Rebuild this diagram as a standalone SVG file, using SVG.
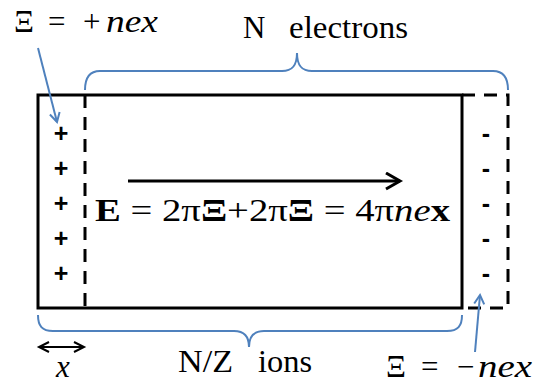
<svg xmlns="http://www.w3.org/2000/svg" width="534" height="383" viewBox="0 0 534 383">
<defs>
<style>
.t{font-family:'Liberation Serif','Times New Roman',Times,serif;font-size:31px;fill:#000}
.i{font-style:italic}
.b{font-weight:bold}
.sg{font-family:'Liberation Sans',Arial,sans-serif;font-weight:bold;font-size:25px;fill:#000;text-anchor:middle}
.brace{fill:none;stroke:#4F81BD;stroke-width:2}
.blue{fill:none;stroke:#4F81BD;stroke-width:2}
.blk{fill:none;stroke:#000;stroke-width:3}
.dash{fill:none;stroke:#000;stroke-width:3;stroke-dasharray:13 9}
</style>
<marker id="hb" markerWidth="14" markerHeight="14" refX="10" refY="6" orient="auto" markerUnits="userSpaceOnUse">
<path d="M1,1 L10,6 L1,11" fill="none" stroke="#4F81BD" stroke-width="2"/>
</marker>
<marker id="hk" markerWidth="20" markerHeight="20" refX="15" refY="9" orient="auto" markerUnits="userSpaceOnUse">
<path d="M1,1 L15,9 L1,17" fill="none" stroke="#000" stroke-width="3"/>
</marker>
<marker id="hs" markerWidth="14" markerHeight="12" refX="11" refY="6" orient="auto-start-reverse" markerUnits="userSpaceOnUse">
<path d="M1,1 L11,6 L1,11" fill="none" stroke="#000" stroke-width="2"/>
</marker>
</defs>

<g id="ion-slab">
<rect x="38" y="95" width="424" height="213" class="blk"/>
<text class="sg" x="61" y="142">+</text>
<text class="sg" x="61" y="177">+</text>
<text class="sg" x="61" y="212">+</text>
<text class="sg" x="61" y="247">+</text>
<text class="sg" x="61" y="282">+</text>
</g>

<g id="electron-slab">
<path d="M85,95 V308" class="dash"/>
<path d="M462,95 H508 V308 H462" class="dash"/>
<text class="sg" x="486" y="142">-</text>
<text class="sg" x="486" y="177">-</text>
<text class="sg" x="486" y="212">-</text>
<text class="sg" x="486" y="247">-</text>
<text class="sg" x="486" y="282">-</text>
</g>

<g id="field-label">
<text class="t" x="95" y="221" textLength="355" lengthAdjust="spacingAndGlyphs"><tspan class="b">E</tspan> = 2π<tspan class="b">Ξ</tspan>+2π<tspan class="b">Ξ</tspan> = 4π<tspan class="i">ne</tspan><tspan class="b">x</tspan></text>
</g>

<g id="label-plus">
<text class="t" y="32"><tspan x="14">Ξ</tspan><tspan x="48">=</tspan><tspan x="83">+</tspan><tspan x="106" class="i" textLength="52" lengthAdjust="spacingAndGlyphs">nex</tspan></text>
</g>

<g id="label-minus">
<text class="t" y="377"><tspan x="386">Ξ</tspan><tspan x="421">=</tspan><tspan x="457">−</tspan><tspan x="478" class="i" textLength="54" lengthAdjust="spacingAndGlyphs">nex</tspan></text>
</g>

<g id="label-electrons">
<text class="t" x="243" y="38">N</text>
<text class="t" x="289" y="38" textLength="119" lengthAdjust="spacingAndGlyphs">electrons</text>
</g>

<g id="label-ions">
<text class="t" x="178" y="372" textLength="55" lengthAdjust="spacingAndGlyphs">N/Z</text>
<text class="t" x="258" y="372" textLength="54" lengthAdjust="spacingAndGlyphs">ions</text>
</g>

<g id="label-x">
<text class="t i" x="56" y="377">x</text>
</g>

<g id="connectors">
<path class="brace" d="M85,90 C85,78 89,71 100,71 H282 C292,71 297,66 297,53 C297,66 302,71 312,71 H493 C504,71 508,78 508,90"/>
<path class="brace" d="M38,315 C38,326 42,331 53,331 H234 C244,331 249,336 249,347 C249,336 254,331 264,331 H447 C458,331 462,326 462,315"/>
<path class="blue" d="M38,48 L57,122" marker-end="url(#hb)"/>
<path class="blue" d="M475,352 L480,295" marker-end="url(#hb)"/>
<path class="blk" d="M128,181 L400,181" marker-end="url(#hk)"/>
<path d="M39,347 L84,347" fill="none" stroke="#000" stroke-width="2" marker-start="url(#hs)" marker-end="url(#hs)"/>
</g>
</svg>
